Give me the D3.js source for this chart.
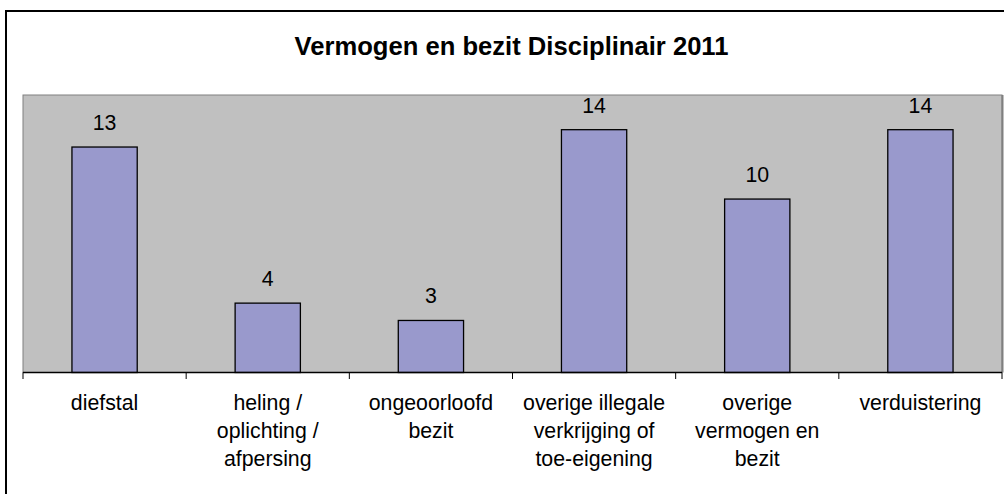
<!DOCTYPE html>
<html>
<head>
<meta charset="utf-8">
<script src="https://cdn.jsdelivr.net/npm/d3@7"></script>
<style>
  html, body { margin: 0; padding: 0; background: #fff; }
  svg { display: block; }
  text { font-family: "Liberation Sans", Arial, sans-serif; fill: #000; }
</style>
</head>
<body>
<svg id="chart" width="1004" height="494"></svg>
<script>
const title = "Vermogen en bezit Disciplinair 2011";
const categories = ["diefstal", "heling / oplichting / afpersing", "ongeoorloofd bezit",
  "overige illegale verkrijging of toe-eigening", "overige vermogen en bezit", "verduistering"];
const labelLines = [
  ["diefstal"],
  ["heling /", "oplichting /", "afpersing"],
  ["ongeoorloofd", "bezit"],
  ["overige illegale", "verkrijging of", "toe-eigening"],
  ["overige", "vermogen en", "bezit"],
  ["verduistering"]
];
const values = [13, 4, 3, 14, 10, 14];
const yMax = 16;

const svg = d3.select("#chart");
const plot = { left: 23, right: 1002, top: 95, bottom: 372.5 };

// outer chart border (extends beyond the visible area)
svg.append("rect")
  .attr("x", 6).attr("y", 11)
  .attr("width", 1040).attr("height", 520)
  .attr("fill", "#fff").attr("stroke", "#000").attr("stroke-width", 2);

// title
svg.append("text")
  .attr("x", 511.5).attr("y", 55)
  .attr("text-anchor", "middle")
  .attr("font-size", "25.6px").attr("font-weight", "bold")
  .text(title);

const x = d3.scaleBand()
  .domain(categories)
  .range([plot.left, plot.right])
  .paddingInner(0.6).paddingOuter(0.3);
const step = x.step();

const y = d3.scaleLinear().domain([0, yMax]).range([plot.bottom, plot.top]);

// plot area
svg.append("rect")
  .attr("x", plot.left).attr("y", plot.top)
  .attr("width", plot.right - plot.left).attr("height", plot.bottom - plot.top)
  .attr("fill", "#C0C0C0").attr("stroke", "#808080").attr("stroke-width", 1);
svg.append("line")
  .attr("x1", plot.right + 0.5).attr("x2", plot.right + 0.5)
  .attr("y1", plot.top).attr("y2", plot.bottom)
  .attr("stroke", "#808080").attr("stroke-width", 2);

// bars
svg.append("g").selectAll("rect")
  .data(values)
  .join("rect")
  .attr("x", (d, i) => x(categories[i]))
  .attr("width", x.bandwidth())
  .attr("y", d => y(d))
  .attr("height", d => y(0) - y(d))
  .attr("fill", "#9999CC")
  .attr("stroke", "#000").attr("stroke-width", 1.3);

// value labels
svg.append("g").selectAll("text")
  .data(values)
  .join("text")
  .attr("x", (d, i) => x(categories[i]) + x.bandwidth() / 2)
  .attr("y", d => y(d) - 17)
  .attr("text-anchor", "middle")
  .attr("font-size", "21.3px")
  .text(d => d);

// x axis line
svg.append("line")
  .attr("x1", plot.left).attr("x2", plot.right)
  .attr("y1", plot.bottom).attr("y2", plot.bottom)
  .attr("stroke", "#000").attr("stroke-width", 1.3);

// ticks at category boundaries
const boundaries = categories.map(c => x(c) - step * 0.3).concat([plot.right]);
svg.append("g").selectAll("line")
  .data(boundaries)
  .join("line")
  .attr("x1", d => d).attr("x2", d => d)
  .attr("y1", plot.bottom).attr("y2", plot.bottom + 6.5)
  .attr("stroke", "#000").attr("stroke-width", 1);

// category labels
const lab = svg.append("g").selectAll("text")
  .data(categories)
  .join("text")
  .attr("text-anchor", "middle")
  .attr("font-size", "21.3px")
  .attr("x", c => x(c) + x.bandwidth() / 2)
  .attr("y", plot.bottom + 37);
lab.each(function(c, i) {
  const t = d3.select(this);
  labelLines[i].forEach((line, j) => {
    t.append("tspan")
      .attr("x", x(c) + x.bandwidth() / 2)
      .attr("dy", j === 0 ? 0 : 28)
      .text(line);
  });
});
</script>
</body>
</html>
